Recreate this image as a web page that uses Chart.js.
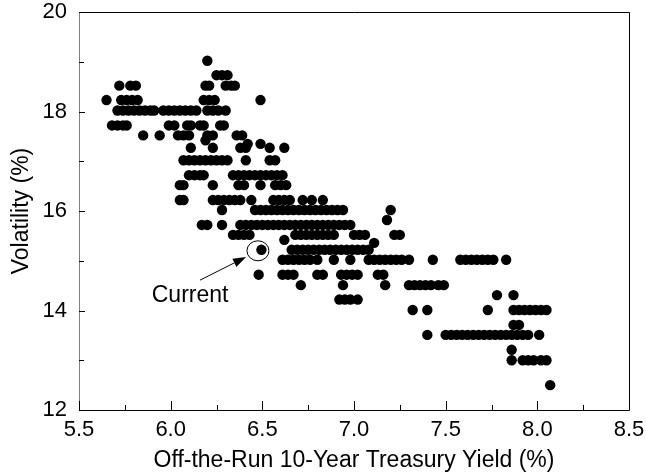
<!DOCTYPE html>
<html>
<head>
<meta charset="utf-8">
<script src="https://cdn.jsdelivr.net/npm/chart.js@4"></script>
<style>
  html, body { margin: 0; padding: 0; background: #fff; }
  #wrap { width: 646px; height: 474px; }
</style>
</head>
<body>
<div id="wrap"><canvas id="chart" width="646" height="474"></canvas></div>
<script>
// Tick labels
const xTicks = [5.5, 6.0, 6.5, 7.0, 7.5, 8.0, 8.5];
const xMinorTicks = [5.75, 6.25, 6.75, 7.25, 7.75, 8.25];
const yTicks = [12, 14, 16, 18, 20];
const yMinorTicks = [13, 15, 17, 19];

// Volatility (%) of each row of dots
const volLevels = [
    19.02, 18.73, 18.52, 18.23, 18.02, 17.72, 17.52, 17.42, 17.35, 17.27,
    17.02, 16.72, 16.52, 16.22, 16.02, 15.82, 15.72, 15.52, 15.42, 15.36,
    15.22, 15.02, 14.72, 14.51, 14.31, 14.22, 14.01, 13.71, 13.51, 13.21,
    13.0, 12.5
];

// Off-the-run 10y yields (%) of the dots in each row
const yieldRows = [
    [6.2],
    [6.25, 6.28, 6.31],
    [5.72, 5.78, 5.81, 6.19, 6.21, 6.3, 6.33, 6.35],
    [5.65, 5.73, 5.76, 5.79, 5.82, 6.18, 6.21, 6.24, 6.49],
    [5.71, 5.74, 5.77, 5.8, 5.83, 5.86, 5.89, 5.91, 5.96, 5.99, 6.02, 6.05, 6.08, 6.11, 6.14, 6.2, 6.23, 6.26, 6.3],
    [5.68, 5.71, 5.74, 5.76, 5.99, 6.02, 6.09, 6.11, 6.16, 6.18, 6.27, 6.29],
    [5.85, 5.94, 6.04, 6.07, 6.1, 6.2, 6.23, 6.36, 6.39],
    [6.19],
    [6.42, 6.49],
    [6.11, 6.23, 6.38, 6.41, 6.54, 6.62],
    [6.07, 6.1, 6.13, 6.16, 6.19, 6.22, 6.25, 6.28, 6.31, 6.41, 6.54, 6.57],
    [6.1, 6.13, 6.16, 6.18, 6.34, 6.37, 6.4, 6.43, 6.46, 6.49, 6.52, 6.55, 6.58, 6.61],
    [6.05, 6.07, 6.23, 6.37, 6.4, 6.49, 6.57, 6.6, 6.63],
    [6.05, 6.07, 6.23, 6.26, 6.29, 6.32, 6.35, 6.38, 6.44, 6.56, 6.59, 6.62, 6.65, 6.72, 6.77, 6.83],
    [6.28, 6.46, 6.49, 6.52, 6.55, 6.58, 6.61, 6.64, 6.67, 6.7, 6.73, 6.76, 6.79, 6.82, 6.85, 6.88, 6.91, 6.94, 7.2],
    [7.18],
    [6.17, 6.2, 6.28, 6.38, 6.41, 6.44, 6.47, 6.5, 6.53, 6.56, 6.59, 6.62, 6.65, 6.68, 6.71, 6.74, 6.77, 6.8, 6.83, 6.86, 6.89, 6.92, 6.95, 6.98],
    [6.34, 6.37, 6.4, 6.43, 6.68, 6.71, 6.74, 6.77, 6.8, 6.83, 6.86, 6.89, 7.0, 7.03, 7.06, 7.22, 7.25],
    [6.62],
    [7.11],
    [6.495, 6.66, 6.69, 6.72, 6.75, 6.78, 6.81, 6.84, 6.87, 6.9, 6.93, 6.96, 6.99, 7.02, 7.05, 7.08],
    [6.61, 6.64, 6.67, 6.7, 6.73, 6.76, 6.8, 6.89, 6.98, 7.08, 7.11, 7.14, 7.17, 7.2, 7.23, 7.26, 7.3, 7.43, 7.58, 7.61, 7.64, 7.67, 7.7, 7.73, 7.76, 7.83],
    [6.48, 6.61, 6.64, 6.67, 6.8, 6.83, 6.93, 6.96, 6.99, 7.02, 7.13, 7.16],
    [6.71, 6.94, 7.17, 7.3, 7.33, 7.36, 7.39, 7.42, 7.46, 7.49],
    [7.78, 7.87],
    [6.92, 6.95, 6.98, 7.02],
    [7.32, 7.4, 7.73, 7.87, 7.9, 7.93, 7.96, 7.99, 8.02, 8.05],
    [7.87, 7.9],
    [7.4, 7.5, 7.53, 7.56, 7.59, 7.62, 7.65, 7.68, 7.71, 7.74, 7.77, 7.8, 7.83, 7.86, 7.89, 7.92, 7.95, 8.01],
    [7.86],
    [7.86, 7.92, 7.95, 7.98, 8.02, 8.05],
    [8.07]
];

// "Current" annotation, in data units
const currentRing = { x: 6.476, y: 15.2 };
const arrowTail = { x: 6.16, y: 14.61 };
const arrowTip = { x: 6.411, y: 15.075 };
const currentLabel = { x: 6.106, y: 14.29, text: 'Current' };

const FONT = "'Liberation Sans', Arial, sans-serif";

const points = [];
volLevels.forEach((v, i) => {
    yieldRows[i].forEach(x => points.push({ x: x, y: v }));
});

// frame, inward ticks and the annotation
const framePlugin = {
    id: 'frame',
    afterDraw(chart) {
        const { ctx, chartArea: a, scales } = chart;
        const xs = scales.x, ys = scales.y;
        ctx.save();
        ctx.lineWidth = 1;

        ctx.strokeStyle = '#000';
        ctx.beginPath();
        ctx.moveTo(a.left, a.top + 0.5);
        ctx.lineTo(a.right + 0.5, a.top + 0.5);
        ctx.lineTo(a.right + 0.5, a.bottom + 0.5);
        ctx.lineTo(a.left, a.bottom + 0.5);
        ctx.stroke();

        ctx.strokeStyle = '#808080';
        ctx.beginPath();
        ctx.moveTo(a.left + 0.5, a.top);
        ctx.lineTo(a.left + 0.5, a.bottom + 1);
        ctx.stroke();

        ctx.strokeStyle = '#000';
        ctx.beginPath();
        xTicks.forEach(v => {
            const px = Math.round(xs.getPixelForValue(v)) + 0.5;
            ctx.moveTo(px, a.bottom);
            ctx.lineTo(px, a.bottom - 9);
        });
        xMinorTicks.forEach(v => {
            const px = Math.round(xs.getPixelForValue(v)) + 0.5;
            ctx.moveTo(px, a.bottom);
            ctx.lineTo(px, a.bottom - 5);
        });
        yTicks.forEach(v => {
            const py = Math.round(ys.getPixelForValue(v)) + 0.5;
            ctx.moveTo(a.left, py);
            ctx.lineTo(a.left + 6, py);
        });
        yMinorTicks.forEach(v => {
            const py = Math.round(ys.getPixelForValue(v)) + 0.5;
            ctx.moveTo(a.left, py);
            ctx.lineTo(a.left + 5, py);
        });
        ctx.stroke();

        // ring round the current point
        ctx.beginPath();
        ctx.ellipse(xs.getPixelForValue(currentRing.x), ys.getPixelForValue(currentRing.y), 11, 10, 0, 0, Math.PI * 2);
        ctx.stroke();

        // arrow
        const tx = xs.getPixelForValue(arrowTail.x), ty = ys.getPixelForValue(arrowTail.y);
        const hx = xs.getPixelForValue(arrowTip.x), hy = ys.getPixelForValue(arrowTip.y);
        const ang = Math.atan2(hy - ty, hx - tx);
        const len = 13, half = 4.5;
        const bx = hx - len * Math.cos(ang), by = hy - len * Math.sin(ang);
        ctx.beginPath();
        ctx.moveTo(tx, ty);
        ctx.lineTo(bx, by);
        ctx.stroke();
        ctx.fillStyle = '#000';
        ctx.beginPath();
        ctx.moveTo(hx, hy);
        ctx.lineTo(bx + half * Math.sin(ang), by - half * Math.cos(ang));
        ctx.lineTo(bx - half * Math.sin(ang), by + half * Math.cos(ang));
        ctx.closePath();
        ctx.fill();

        ctx.font = '23px ' + FONT;
        ctx.textAlign = 'center';
        ctx.textBaseline = 'middle';
        ctx.fillText(currentLabel.text, xs.getPixelForValue(currentLabel.x), ys.getPixelForValue(currentLabel.y));
        ctx.restore();
    }
};

new Chart(document.getElementById('chart'), {
    type: 'scatter',
    data: {
        datasets: [{
            data: points,
            pointRadius: 5.2,
            pointBackgroundColor: '#000',
            pointBorderWidth: 0,
            pointHoverRadius: 5.2
        }]
    },
    options: {
        responsive: false,
        animation: false,
        events: [],
        layout: { padding: { top: 12, right: 17, left: 0, bottom: 0 } },
        plugins: { legend: { display: false }, tooltip: { enabled: false } },
        scales: {
            x: {
                type: 'linear',
                min: 5.5,
                max: 8.5,
                afterBuildTicks: s => { s.ticks = xTicks.map(v => ({ value: v })); },
                afterFit: s => { s.height = 64; s.paddingLeft = 0; s.paddingRight = 0; },
                grid: { display: false, drawTicks: false },
                border: { display: false },
                ticks: {
                    color: '#000',
                    font: { family: FONT, size: 22 },
                    padding: 7,
                    maxRotation: 0,
                    autoSkip: false,
                    callback: v => Number(v).toFixed(1)
                },
                title: {
                    display: true,
                    text: 'Off-the-Run 10-Year Treasury Yield (%)',
                    color: '#000',
                    font: { family: FONT, size: 23 },
                    padding: { top: 0, bottom: 0 }
                }
            },
            y: {
                type: 'linear',
                min: 12,
                max: 20,
                afterBuildTicks: s => { s.ticks = yTicks.map(v => ({ value: v })); },
                afterFit: s => { s.width = 79; s.paddingTop = 0; s.paddingBottom = 0; },
                grid: { display: false, drawTicks: false },
                border: { display: false },
                ticks: {
                    color: '#000',
                    font: { family: FONT, size: 22 },
                    padding: 12
                },
                title: {
                    display: true,
                    text: 'Volatility (%)',
                    color: '#000',
                    font: { family: FONT, size: 23 },
                    padding: { top: 8, bottom: 0 }
                }
            }
        }
    },
    plugins: [framePlugin]
});
</script>
</body>
</html>
